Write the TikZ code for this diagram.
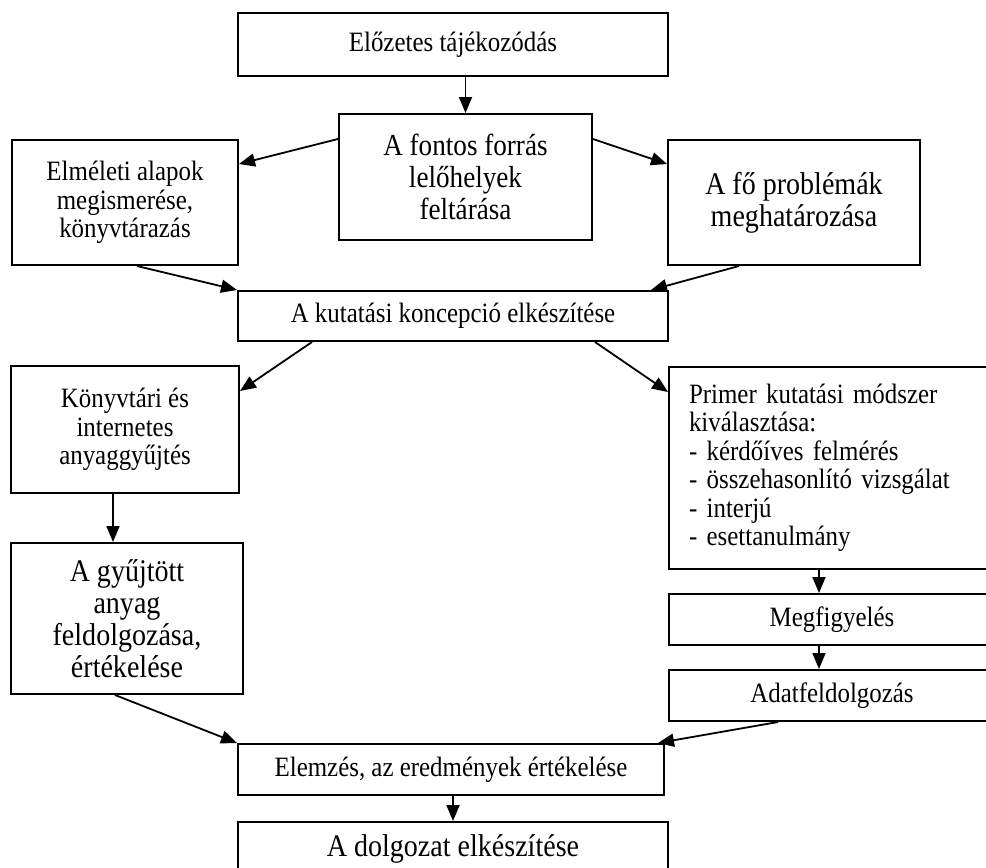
\documentclass[tikz,border=0pt]{standalone}
\usepackage{fontspec}
\setmainfont{Liberation Serif}[FakeStretch=0.89]
\usetikzlibrary{arrows.meta,calc}
\protected\def\tightsp{\spaceskip=0.222em plus 0.1em minus 0.05em\relax}
\begin{document}
\begin{tikzpicture}[x=1pt,y=1pt,
  box/.style={draw=black,line width=2pt,fill=white,inner sep=0pt,align=center,
    font=\fontsize{28}{28.5}\selectfont\tightsp},
  bigbox/.style={box,font=\fontsize{31.5}{32}\selectfont\tightsp},
  midbox/.style={box,font=\fontsize{30.5}{32}\selectfont\tightsp},
  conn/.style={line width=1.8pt,-{Triangle[length=16pt,width=13pt]}},
  ]
\useasboundingbox (0,0) rectangle (986,-868);
\clip (0,0) rectangle (986,-868);
\fill[white] (0,0) rectangle (986,-868);

\node[box,minimum width=430pt,minimum height=63pt] (pre) at (453,-44.5) {Előzetes tájékozódás};
\node[midbox,minimum width=253pt,minimum height=126pt] (fontos) at (465.5,-177) {A fontos forrás\\lelőhelyek\\feltárása};
\node[box,minimum width=226pt,minimum height=125pt] (elm) at (125,-202.5) {Elméleti alapok\\megismerése,\\könyvtárazás};
\node[bigbox,minimum width=252pt,minimum height=125pt] (fo) at (794,-202.5) {A fő problémák\\meghatározása};
\node[box,minimum width=430pt,minimum height=50pt] (kut) at (453,-316) {A kutatási koncepció elkészítése};
\node[box,minimum width=228pt,minimum height=127pt] (konyv) at (125,-429.5) {Könyvtári és\\internetes\\anyaggyűjtés};
\node[box,anchor=north west,text width=312pt,inner xsep=20pt,minimum height=202pt,align=left] (primer) at (668,-366)
  {Primer kutatási módszer\\kiválasztása:\\- kérdőíves felmérés\\- összehasonlító vizsgálat\\- interjú\\- esettanulmány};
\node[bigbox,minimum width=232pt,minimum height=151pt] (gyu) at (127,-618.5) {A gyűjtött\\anyag\\feldolgozása,\\értékelése};
\node[box,anchor=north west,minimum width=326pt,minimum height=51pt] (megf) at (668,-593) {Megfigyelés};
\node[box,anchor=north west,minimum width=326pt,minimum height=51pt] (adat) at (668,-669) {Adatfeldolgozás};
\node[box,minimum width=426pt,minimum height=51pt] (elem) at (451,-769.5) {Elemzés, az eredmények értékelése};
\node[bigbox,anchor=north,minimum width=430pt,minimum height=54pt] (dolg) at (453,-821) {A dolgozat elkészítése};

\draw[conn] (fontos.north |- pre.south) -- (fontos.north);
\draw[conn] ([yshift=-26pt]fontos.north west) -- ([yshift=-25pt]elm.north east);
\draw[conn] ([yshift=-26pt]fontos.north east) -- ([yshift=-25pt]fo.north west);
\draw[conn] ([xshift=12pt]elm.south) -- (kut.north west);
\draw[conn] ([xshift=-55pt]fo.south) -- ([xshift=-18pt]kut.north east);
\draw[conn] ([xshift=75pt]kut.south west) -- ([yshift=-26pt]konyv.north east);
\draw[conn] ([xshift=-74pt]kut.south east) -- ([yshift=-26pt]primer.north west);
\draw[conn] ([xshift=-12pt]konyv.south) -- ([xshift=-12pt]konyv.south |- gyu.north);
\draw[conn] ([xshift=151pt]primer.south west) -- ([xshift=151pt]megf.north west);
\draw[conn] ([xshift=151pt]megf.south west) -- ([xshift=151pt]adat.north west);
\draw[conn] ([xshift=-12pt]gyu.south) -- (elem.north west);
\draw[conn] ([xshift=110pt]adat.south west) -- ([xshift=-7pt]elem.north east);
\draw[conn] (elem.south -| dolg.north) -- (dolg.north);
\end{tikzpicture}
\end{document}
